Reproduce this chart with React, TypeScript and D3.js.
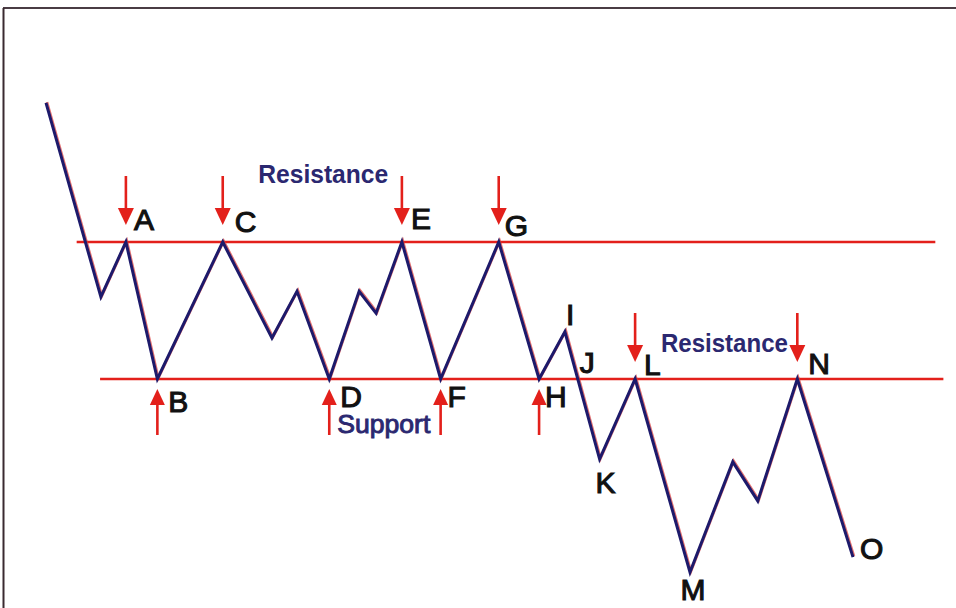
import React from 'react'
import * as d3 from 'd3'

// price path: time index and price level of each turning point
const pivotNames = ['', '', 'A', 'B', 'C', '', '', 'D', '', '', 'E', 'F', 'G', 'H', 'I', 'K', 'L', 'M', '', '', 'N', 'O']
const pivotTimes = [0, 6.8, 9.9, 13.8, 21.9, 28.0, 31.1, 35.1, 38.8, 40.9, 44.1, 48.9, 56.1, 61.1, 64.3, 68.6, 73.0, 79.8, 85.1, 88.2, 93.1, 100]
const pivotPrices = [80.3, 52.0, 60, 40, 60, 46.0, 52.8, 40, 52.8, 49.6, 60, 40, 60, 40, 46.9, 28.3, 40, 11.8, 27.9, 22.2, 40, 14.0]

const resistanceLevel = 60
const supportLevel = 40
const resistanceSpan = [3.8, 110.2]
const supportSpan = [6.7, 111.2]

// which pivots get an arrow
const downArrows = ['A', 'C', 'E', 'G', 'L', 'N']
const upArrows = ['B', 'D', 'F', 'H']

const W = 956
const H = 608
const navy = '#1d1a6b'
const red = '#e3201b'

const x = d3.scaleLinear().domain([0, 100]).range([46, 853])
const y = d3.scaleLinear().domain([supportLevel, resistanceLevel]).range([379, 242])

// label placement relative to its pivot
const labelOffsets: Record<string, [number, number, string]> = {
  A: [8, -12, 'start'], C: [12, -10, 'start'], E: [9, -13, 'start'], G: [6, -6, 'start'],
  B: [11, 33, 'start'], D: [11, 28, 'start'], F: [7, 28, 'start'], H: [6, 28, 'start'],
  I: [1, -7, 'start'], K: [6, 34, 'middle'], L: [9, -4, 'start'], M: [3, 28, 'middle'],
  N: [11, -5, 'start'], O: [7, 2, 'start'],
}

const annotations = [
  { text: 'Resistance', t: 26.3, v: 68.6, len: 130, size: 26, weight: 'bold', thick: 0 },
  { text: 'Resistance', t: 76.2, v: 44.0, len: 127, size: 26, weight: 'bold', thick: 0 },
  { text: 'Support', t: 36.1, v: 32.1, len: 93, size: 25, weight: 'normal', thick: 0.9 },
]

const App = () => {
  const pts = pivotTimes.map((t, i) => ({ t, v: pivotPrices[i], name: pivotNames[i] }))
  const line = d3.line<{ t: number; v: number }>().x(d => x(d.t)).y(d => y(d.v))
  const path = line(pts) || ''

  // J marks where the drop from I breaks through support
  const iIdx = pivotNames.indexOf('I')
  const p0 = pts[iIdx], p1 = pts[iIdx + 1]
  const frac = (p0.v - supportLevel) / (p0.v - p1.v)
  const jx = x(p0.t + (p1.t - p0.t) * frac)
  const jy = y(supportLevel)

  const arrowDown = (px: number, py: number) => {
    const tip = py - 17
    return (
      <g key={'d' + px}>
        <line x1={px} x2={px} y1={tip - 49} y2={tip - 14} stroke={red} strokeWidth={2.6} />
        <path d={`M${px - 8},${tip - 17}L${px + 8},${tip - 17}L${px},${tip}Z`} fill={red} />
      </g>
    )
  }
  const arrowUp = (px: number, py: number) => {
    const tip = py + 10
    return (
      <g key={'u' + px}>
        <line x1={px} x2={px} y1={tip + 46} y2={tip + 13} stroke={red} strokeWidth={2.6} />
        <path d={`M${px - 7.5},${tip + 16}L${px + 7.5},${tip + 16}L${px},${tip}Z`} fill={red} />
      </g>
    )
  }

  const labelStyle = { fontSize: 30, fill: '#111', stroke: '#111', strokeWidth: 1.1 }

  return (
    <svg width={W} height={H} style={{ position: 'absolute', left: 0, top: 0, background: '#fff' }}
      fontFamily="'Liberation Sans', Arial, sans-serif">
      {/* frame */}
      <line x1={3} x2={W} y1={8} y2={8} stroke="#4a3c44" strokeWidth={2} />
      <line x1={3.5} x2={3.5} y1={8} y2={H} stroke="#3a2a30" strokeWidth={2} />

      {/* levels */}
      <line x1={x(resistanceSpan[0])} x2={x(resistanceSpan[1])} y1={y(resistanceLevel)} y2={y(resistanceLevel)}
        stroke={red} strokeWidth={2.5} />
      <line x1={x(supportSpan[0])} x2={x(supportSpan[1])} y1={y(supportLevel)} y2={y(supportLevel)}
        stroke={red} strokeWidth={2.5} />

      {/* price path, with the reddish fringe of the original */}
      <path d={path} fill="none" stroke="#d84040" strokeWidth={2.8} strokeLinejoin="miter"
        transform="translate(0.9,-0.9)" opacity={0.75} />
      <path d={path} fill="none" stroke={navy} strokeWidth={3} strokeLinejoin="miter" />

      {pts.filter(p => downArrows.includes(p.name)).map(p => arrowDown(x(p.t), y(p.v)))}
      {pts.filter(p => upArrows.includes(p.name)).map(p => arrowUp(x(p.t), y(p.v)))}

      {pts.filter(p => p.name && labelOffsets[p.name]).map(p => {
        const [dx, dy, anchor] = labelOffsets[p.name]
        return (
          <text key={p.name} x={x(p.t) + dx} y={y(p.v) + dy} style={labelStyle}
            textAnchor={anchor}>{p.name}</text>
        )
      })}
      <text x={jx + 2} y={jy - 6} style={labelStyle}>J</text>

      {annotations.map((a, i) => (
        <text key={i} x={x(a.t)} y={y(a.v)} fontSize={a.size} fontWeight={a.weight} fill="#2b2870"
          stroke="#2b2870" strokeWidth={a.thick}
          textLength={a.len} lengthAdjust="spacingAndGlyphs">{a.text}</text>
      ))}
    </svg>
  )
}

export default App
